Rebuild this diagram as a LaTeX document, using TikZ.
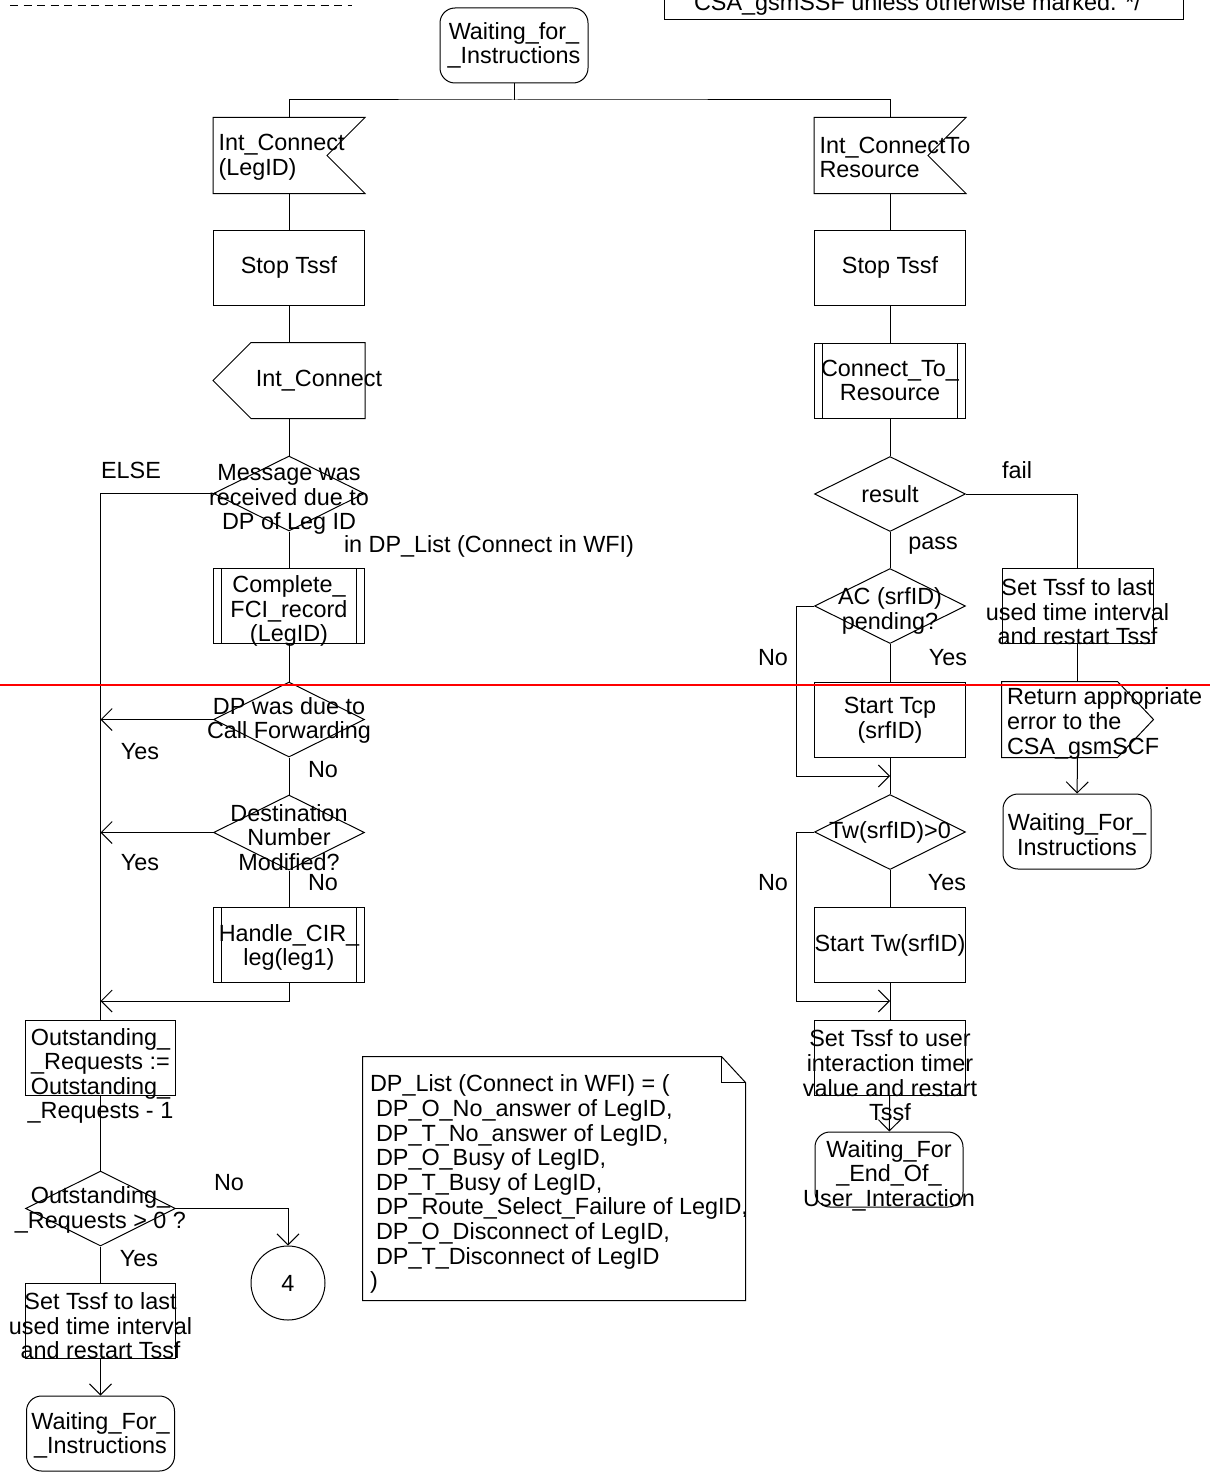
\documentclass[tikz,border=0pt]{standalone}
\usepackage{fontspec}
\setmainfont{Liberation Sans}
\usetikzlibrary{shapes.geometric,arrows.meta}
\newcommand{\sdlfont}{\fontsize{23.4pt}{24.6pt}\selectfont}

\tikzset{
  lbl/.style={font=\sdlfont, align=center, inner sep=0pt},
  sdlbase/.style={minimum width=151pt, minimum height=75pt, inner sep=0pt},
  state/.style={sdlbase, draw, rounded corners=15pt, minimum width=148pt},
  taskbox/.style={sdlbase, draw},
  procbox/.style={taskbox, path picture={
      \draw ([xshift=8pt]path picture bounding box.north west) -- ([xshift=8pt]path picture bounding box.south west)
            ([xshift=-8pt]path picture bounding box.north east) -- ([xshift=-8pt]path picture bounding box.south east);}},
  decision/.style={sdlbase, draw, diamond},
  signalbox/.style={sdlbase},
  connector/.style={draw, circle, minimum size=74pt, inner sep=0pt, font=\sdlfont},
  txt/.style={label={[lbl]center:{#1}}},
  txtlow/.style 2 args={label={[lbl,yshift=-#1pt]center:{#2}}},
  txtleft/.style 2 args={label={[lbl,align=left,anchor=west,xshift=5pt,yshift=-#1pt]west:{#2}}},
}

\begin{document}
\begin{tikzpicture}[x=1pt, y=-1pt, line width=1pt, >={Straight Barb[length=11pt,width=22pt]}]
  \useasboundingbox (0,0) rectangle (1210,1477);
  \clip (0,0) rectangle (1210,1477);

  % page header
  \draw[dash pattern=on 8pt off 5.5pt] (10,5.5) -- (352,5.5);
  \node[draw, minimum width=519pt, minimum height=80pt, inner sep=0pt, anchor=south,
    label={[lbl,anchor=base,xshift=-6pt,yshift=9pt]south:{CSA\_gsmSSF unless otherwise marked. */}}] (hdr) at (923.5,20) {};

  % start state
  \node[state, txt={Waiting\_for\_\\\_Instructions}] (wfi0) at (514,45.5) {};
  \coordinate (split) at (514,100);

  % Int_Connect branch
  \node[signalbox, txtleft={2}{Int\_Connect\\(LegID)}] (in1) at (289,155.5) {};
  \draw (in1.north west) -- (in1.north east) -- ([xshift=-38pt]in1.east) -- (in1.south east) -- (in1.south west) -- cycle;
  \node[taskbox, txt={Stop Tssf}] (stop1) at (289,267.5) {};
  \node[signalbox, label={[lbl,xshift=30pt]center:{Int\_Connect}}] (out1) at (289,380.5) {};
  \draw ([xshift=38pt]out1.north west) -- (out1.north east) -- (out1.south east) -- ([xshift=38pt]out1.south west) -- (out1.west) -- cycle;
  \node[decision, txtlow={6}{Message was\\received due to\\DP of Leg ID}] (dec1) at (289,493.5) {};
  \node[lbl] (dpnote) at (489,546) {in DP\_List (Connect in WFI)};
  \node[procbox, txtlow={5}{Complete\_\\FCI\_record\\(LegID)}] (proc1) at (289,606) {};
  \node[decision, txtlow={1}{DP was due to\\Call Forwarding}] (dec2) at (289,719.5) {};
  \node[decision, txtlow={5}{Destination\\Number\\Modified?}] (dec3) at (289,832.5) {};
  \node[procbox, txtlow={3}{Handle\_CIR\_\\leg(leg1)}] (proc2) at (289,944.5) {};
  \coordinate (mrg1) at (100.5,1001);

  \node[taskbox, minimum width=150pt, txtlow={18}{Outstanding\_\\\_Requests :=\\Outstanding\_\\\_Requests - 1}] (task1) at (100.5,1058) {};
  \node[decision, minimum width=150pt, txtlow={1.5}{Outstanding\_\\\_Requests > 0 ?}] (dec4) at (100.5,1208.5) {};
  \node[connector] (conn4) at (288,1283) {4};
  \node[taskbox, minimum width=150pt, txtlow={5}{Set Tssf to last\\used time interval\\and restart Tssf}] (task2) at (100.5,1321) {};
  \node[state, txtlow={2}{Waiting\_For\_\\\_Instructions}] (wfi1) at (100.5,1433.5) {};

  % Int_ConnectToResource branch
  \node[signalbox, txtleft={2}{Int\_ConnectTo\\Resource}] (in2) at (890,155.5) {};
  \draw (in2.north west) -- (in2.north east) -- ([xshift=-38pt]in2.east) -- (in2.south east) -- (in2.south west) -- cycle;
  \node[taskbox, txt={Stop Tssf}] (stop2) at (890,267.5) {};
  \node[procbox, txt={Connect\_To\_\\Resource}] (proc3) at (890,380.5) {};
  \node[decision, txt={result}] (dec5) at (890,494) {};
  \node[decision, txtlow={5}{AC (srfID)\\pending?}] (dec6) at (890,606) {};
  \node[taskbox, txtlow={6}{Set Tssf to last\\used time interval\\and restart Tssf}] (task3) at (1077.5,606) {};
  \node[taskbox, txtlow={1}{Start Tcp\\(srfID)}] (task4) at (890,719.5) {};
  \node[signalbox, txtleft={4}{Return appropriate\\error to the\\CSA\_gsmSCF}] (out2) at (1077.5,719.5) {};
  \draw (out2.north west) -- ([xshift=-36pt]out2.north east) -- (out2.east) -- ([xshift=-36pt]out2.south east) -- (out2.south west) -- cycle;
  \node[state, txtlow={3}{Waiting\_For\_\\Instructions}] (wfi2) at (1077,831.5) {};
  \coordinate (mrg2) at (890,776);
  \node[decision, txt={Tw(srfID)>0}] (dec7) at (890,832) {};
  \node[taskbox, txt={Start Tw(srfID)}] (task5) at (890,945) {};
  \coordinate (mrg3) at (890,1001);
  \node[taskbox, txtlow={18}{Set Tssf to user\\interaction timer\\value and restart\\Tssf}] (task6) at (890,1057.5) {};
  \node[state, txtlow={6}{Waiting\_For\\\_End\_Of\_\\User\_Interaction}] (wfi3) at (889,1169.5) {};

  % comment text
  \node[sdlbase, minimum width=382pt, minimum height=243pt,
    label={[lbl,align=left,anchor=north west,xshift=7pt,yshift=-18pt]north west:{DP\_List (Connect in WFI) = (\\%
     \hspace*{6pt}DP\_O\_No\_answer of LegID,\\%
     \hspace*{6pt}DP\_T\_No\_answer of LegID,\\%
     \hspace*{6pt}DP\_O\_Busy of LegID,\\%
     \hspace*{6pt}DP\_T\_Busy of LegID,\\%
     \hspace*{6pt}DP\_Route\_Select\_Failure of LegID,\\%
     \hspace*{6pt}DP\_O\_Disconnect of LegID,\\%
     \hspace*{6pt}DP\_T\_Disconnect of LegID\\%
     )}}] (dplist) at (554,1178.5) {};
  \draw (dplist.north west) -- ([xshift=-24pt]dplist.north east) -- ([yshift=-26pt]dplist.north east) -- (dplist.south east) -- (dplist.south west) -- cycle;
  \draw ([xshift=-24pt]dplist.north east) |- ([yshift=-26pt]dplist.north east);

  % branch labels
  \node[lbl] (lelse) at (131,470) {ELSE};
  \node[lbl] (lyes1) at (140,752) {Yes};
  \node[lbl] (lno1) at (323,770) {No};
  \node[lbl] (lyes2) at (140,863) {Yes};
  \node[lbl] (lno2) at (323,883) {No};
  \node[lbl] (lno3) at (229,1183) {No};
  \node[lbl] (lyes3) at (139,1259) {Yes};
  \node[lbl] (lfail) at (1017,470) {fail};
  \node[lbl] (lpass) at (933,546) {pass};
  \node[lbl] (lno4) at (773,658) {No};
  \node[lbl] (lyes4) at (948,658) {Yes};
  \node[lbl] (lno5) at (773,883) {No};
  \node[lbl] (lyes5) at (947,883) {Yes};

  % flow lines
  \draw (wfi0) -- (split);
  \draw (in1.north) |- (split) -| (in2.north);
  \draw (in1) -- (stop1);
  \draw (stop1) -- (out1);
  \draw (out1) -- (dec1);
  \draw (dec1) -- (proc1);
  \draw (proc1) -- (dec2);
  \draw (dec2) -- (dec3);
  \draw (dec3) -- (proc2);
  \draw[->] (proc2) |- (mrg1);
  \draw (dec1.west) -| (task1.north);
  \draw[->] (dec2.west) -- (dec2.west -| task1.north);
  \draw[->] (dec3.west) -- (dec3.west -| task1.north);
  \draw (task1) -- (dec4);
  \draw[->] (dec4.east) -| (conn4.north);
  \draw (dec4) -- (task2);
  \draw[->] (task2) -- (wfi1);

  \draw (in2) -- (stop2);
  \draw (stop2) -- (proc3);
  \draw (proc3) -- (dec5);
  \draw (dec5) -- (dec6);
  \draw (dec6) -- (task4);
  \draw (task4) -- (dec7);
  \draw (dec7) -- (task5);
  \draw (task5) -- (task6);
  \draw[->] (task6) -- (wfi3);
  \draw (dec5.east) -| (task3.north);
  \draw (task3) -- (out2);
  \draw[->] (out2) -- (wfi2);
  \draw[->] (dec6.west) -- ++(-18,0) |- (mrg2);
  \draw[->] (dec7.west) -- ++(-18,0) |- (mrg3);

  % page split
  \draw[red, line width=2pt] (0,685) -- (1210,685);
\end{tikzpicture}
\end{document}
